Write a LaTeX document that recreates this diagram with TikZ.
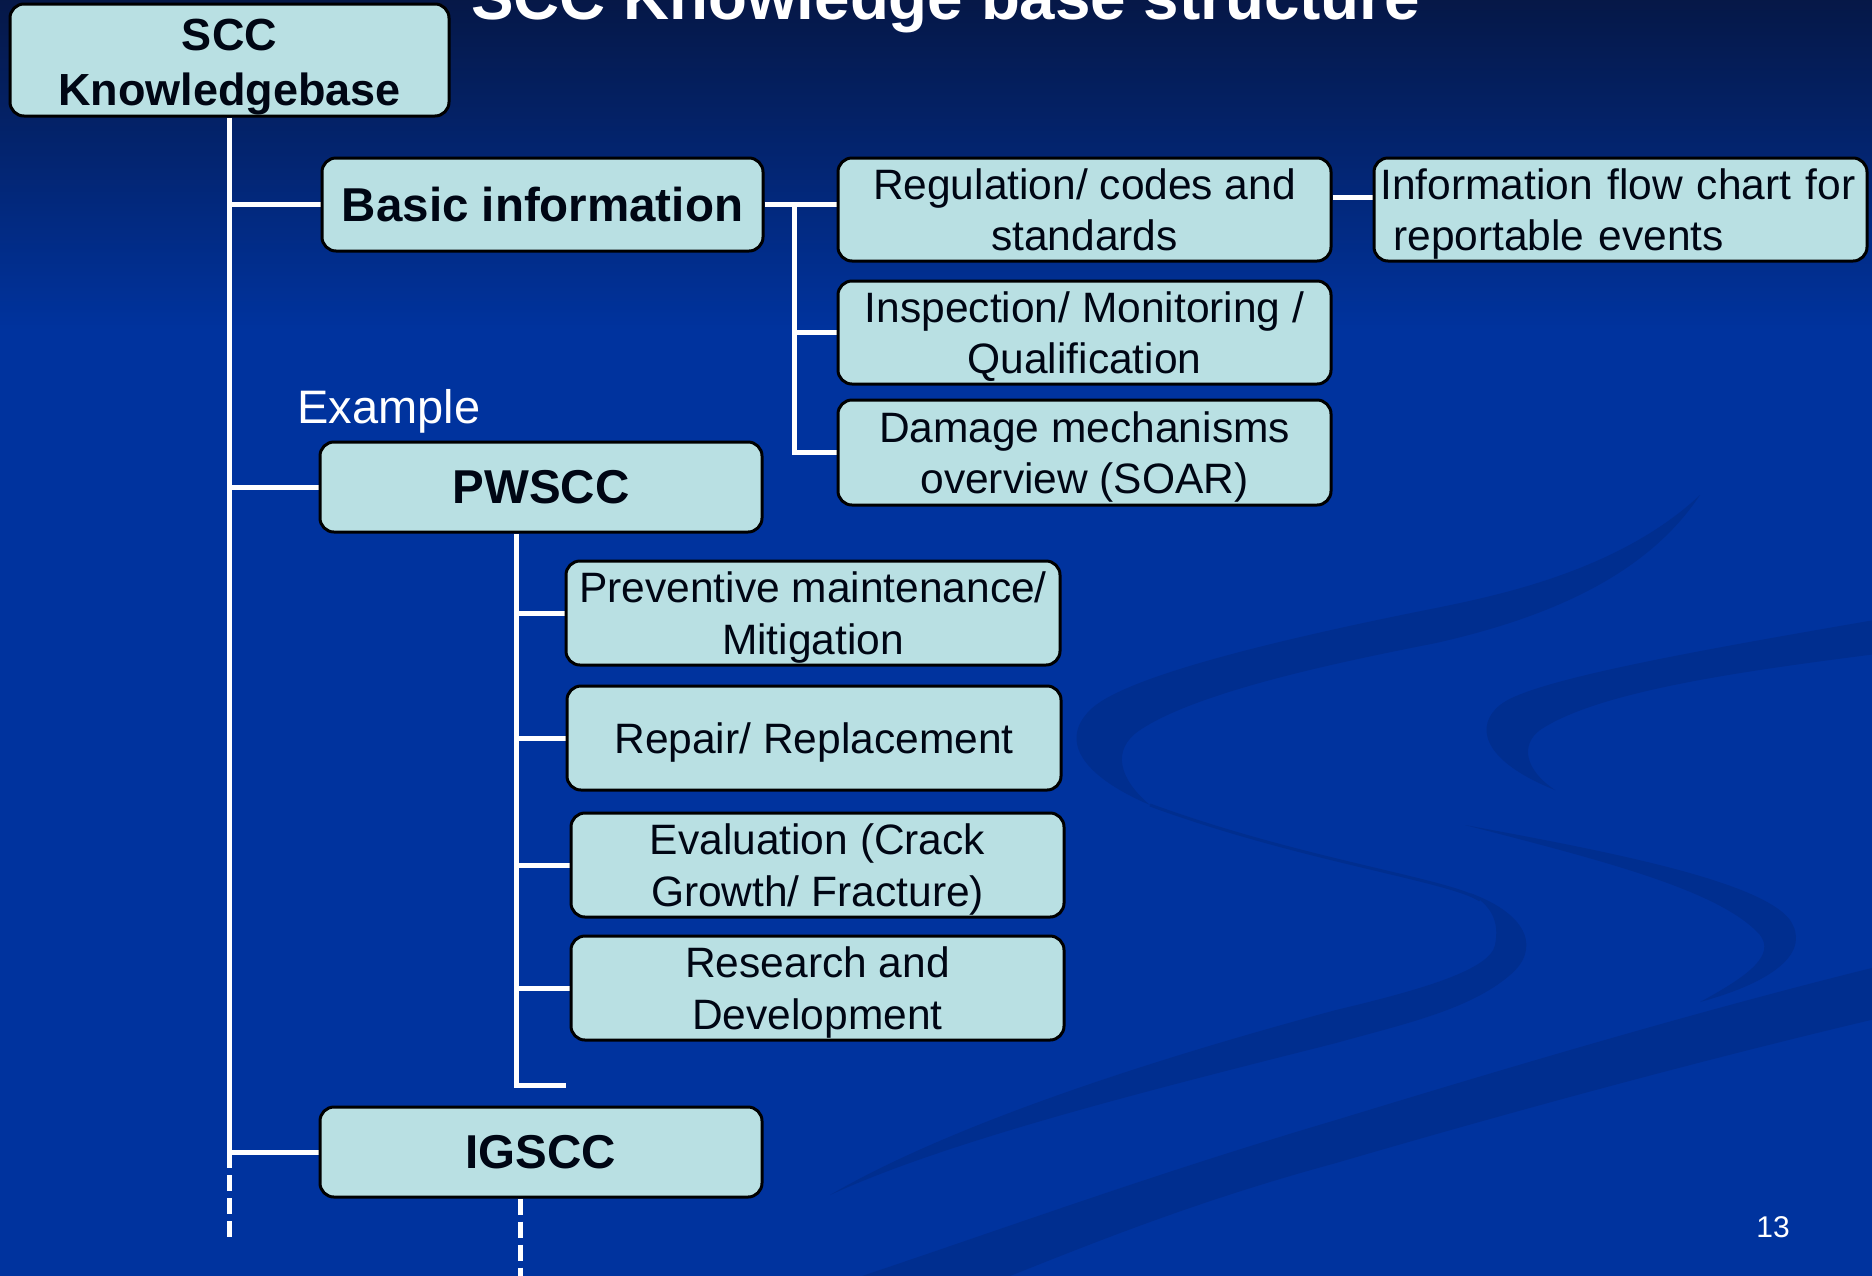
\documentclass[tikz,border=0pt]{standalone}
\usepackage{fontspec}
\setmainfont{Liberation Sans}
\usetikzlibrary{calc}
\definecolor{bgblue}{RGB}{0,51,158}
\definecolor{bgtop}{RGB}{6,22,66}
\definecolor{swooshc}{RGB}{0,46,143}
\definecolor{boxfill}{RGB}{185,224,227}
\definecolor{boxtext}{RGB}{0,6,20}
\pgfdeclarelayer{bg}
\pgfsetlayers{bg,main}
% struts that set where the text sits inside a box
\newcommand{\fs}{\rule{0pt}{20.5pt}}
\newcommand{\ls}{\rule[-5pt]{0pt}{5pt}}
\newcommand{\bfs}{\rule{0pt}{22.5pt}}
\begin{document}
\begin{tikzpicture}[x=0.5pt,y=-0.5pt,
  box/.style={draw=black, line width=1.5pt, fill=boxfill, rounded corners=7pt, text=boxtext, align=center, inner sep=0pt, minimum height=51.5pt, minimum width=246.5pt, font=\fontsize{21.25pt}{25.7pt}\selectfont},
  boldbox/.style={box, font=\fontsize{23.75pt}{28pt}\selectfont\bfseries},
  link/.style={draw=white, line width=2.5pt},
  dlink/.style={link, dash pattern=on 8pt off 3.5pt},
  swoosh/.style={fill=swooshc},
  label/.style={anchor=base west, text=white, inner sep=0pt}]
\useasboundingbox (0,0) rectangle (1872,1275);
\begin{pgfonlayer}{bg}
\fill[bgblue] (-20,-20) rectangle (1892,1295);
\shade[top color=bgtop, bottom color=bgblue] (-20,-20) rectangle (1892,330);
% background swooshes
\fill[swoosh] (1700,495) .. controls (1620,570) and (1500,595) .. (1436,608) .. controls (1250,645) and (1120,680) .. (1090,710) .. controls (1060,740) and (1080,775) .. (1150,805) .. controls (1120,780) and (1110,750) .. (1140,730) .. controls (1200,690) and (1350,660) .. (1436,643) .. controls (1560,615) and (1650,570) .. (1700,495) -- cycle;
\draw[draw=swooshc, line width=1.5pt] (1150,805) .. controls (1300,860) and (1450,880) .. (1480,900);
\fill[swoosh] (1470,893) .. controls (1530,915) and (1540,950) .. (1510,975) .. controls (1470,1010) and (1400,1025) .. (1336,1043) .. controls (1150,1090) and (950,1140) .. (830,1195) .. controls (950,1125) and (1150,1060) .. (1336,1010) .. controls (1420,990) and (1490,970) .. (1495,945) .. controls (1500,920) and (1490,905) .. (1470,893) -- cycle;
\fill[swoosh] (1892,617) .. controls (1700,650) and (1530,680) .. (1500,705) .. controls (1475,725) and (1480,760) .. (1555,790) .. controls (1525,770) and (1520,745) .. (1540,730) .. controls (1600,690) and (1750,670) .. (1892,652) -- cycle;
\fill[swoosh] (1465,825) .. controls (1600,850) and (1760,880) .. (1790,920) .. controls (1810,950) and (1780,980) .. (1700,1002) .. controls (1750,975) and (1775,955) .. (1760,935) .. controls (1720,890) and (1600,860) .. (1465,825) -- cycle;
\fill[swoosh] (1892,963) .. controls (1700,1010) and (1500,1070) .. (1336,1120) .. controls (1150,1175) and (1000,1230) .. (850,1280) -- (820,1295) -- (990,1295) -- (1000,1280) .. controls (1100,1240) and (1200,1200) .. (1336,1163) .. controls (1500,1115) and (1700,1060) .. (1892,1015) -- cycle;
\end{pgfonlayer}

\node[label, font=\fontsize{31.85pt}{38pt}\selectfont\bfseries] (title) at (471,19) {SCC Knowledge base structure};
\node[label, font=\fontsize{23.5pt}{28pt}\selectfont] (example) at (297,423) {Example};
\node[label, font=\fontsize{15pt}{18pt}\selectfont] (pagenum) at (1756,1237) {13};

\node[boldbox, minimum width=219.5pt, minimum height=56pt, font=\fontsize{22.5pt}{27.5pt}\selectfont\bfseries] (scc) at (229.5,60) {\bfs SCC\\Knowledgebase\ls};
\node[boldbox, minimum width=220.5pt, minimum height=46.5pt] (basic) at (542.5,204.5) {Basic information};
\node[boldbox, minimum width=221pt, minimum height=45pt] (pwscc) at (541,487) {PWSCC};
\node[boldbox, minimum width=221pt, minimum height=45pt] (igscc) at (541,1152) {IGSCC};

\node[box] (reg) at (1084.5,209.5) {\fs Regulation/ codes and\\standards\ls};
\node[box] (insp) at (1084.5,332.5) {\fs Inspection/ Monitoring /\\Qualification\ls};
\node[box, minimum height=52.5pt] (dmg) at (1084.5,452.5) {\fs Damage mechanisms\\overview (SOAR)\ls};
\node[box, align=left, text width=240pt, inner xsep=3pt] (info) at (1620.5,209.5) {\fs Information flow chart for\\\hspace*{0.3em}reportable events\ls};

\node[box, minimum width=247pt, minimum height=52pt] (prev) at (813,613) {\fs Preventive maintenance/\\Mitigation\ls};
\node[box, minimum width=247pt, minimum height=52pt] (rep) at (814,738) {\fs Repair/ Replacement\ls};
\node[box, minimum height=52pt] (eval) at (817.5,865) {\fs Evaluation (Crack\\Growth/ Fracture)\ls};
\node[box, minimum height=52pt] (res) at (817.5,988) {\fs Research and\\Development\ls};

\coordinate (mainend) at (228,1240);
\coordinate (bj) at (794,204);
\coordinate (pj) at (516,532);
\coordinate (stubend) at (566,1085);
\coordinate (igend) at (520,1280);

\begin{pgfonlayer}{bg}
\draw[link] (scc.south) -- (scc.south |- igscc.west);
\draw[link] (scc.south |- basic.west) -- (basic.west);
\draw[link] (scc.south |- pwscc.west) -- (pwscc.west);
\draw[link] (scc.south |- igscc.west) -- (igscc.west);
\draw[dlink] (scc.south |- igscc.west) -- (scc.south |- mainend);

\draw[link] (basic.east) -- (reg.west |- basic.east);
\draw[link] (bj |- basic.east) -- (bj |- dmg.west) -- (dmg.west);
\draw[link] (bj |- insp.west) -- (insp.west);
\draw[link] ([yshift=6pt]reg.east) -- ([yshift=6pt]info.west);

\draw[link] (pj |- pwscc.south) -- (pj |- stubend) -- (stubend);
\draw[link] (pj |- prev.west) -- (prev.west);
\draw[link] (pj |- rep.west) -- (rep.west);
\draw[link] (pj |- eval.west) -- (eval.west);
\draw[link] (pj |- res.west) -- (res.west);
\draw[dlink] (igend |- igscc.south) -- (igend);
\end{pgfonlayer}
\end{tikzpicture}
\end{document}
